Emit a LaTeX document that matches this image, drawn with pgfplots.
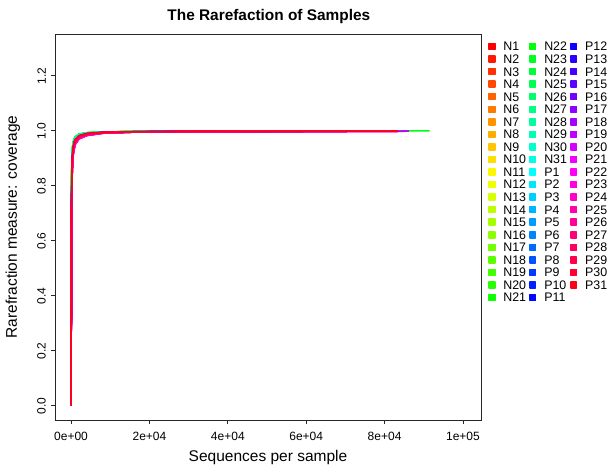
\documentclass[border=0pt]{standalone}
\usepackage{fontspec}
\setmainfont{Liberation Sans}
\usepackage{pgfplots}
\usepackage{pgfplotstable}
\pgfplotsset{compat=1.18}

% one row per sample: coverage at depth x (first row)
\pgfplotstableread{
name g1 g2 g3 g4 g5 g6 g7 g8 g9 g10 g11 g12 g13 g14
x 1 100 250 500 1000 2000 4000 8000 16000 32000 64000 83400 86200 91500
N1 0 0.73 0.888 0.941 0.968 0.982 0.9901 0.9944 0.9966 0.9978 0.9986 0.9988 nan nan
N2 0 0.69 0.872 0.933 0.964 0.979 0.9882 0.9936 0.9962 0.9975 0.9984 0.9986 nan nan
N3 0 0.71 0.882 0.939 0.967 0.981 0.9898 0.9942 0.9965 0.9978 0.9986 0.9988 nan nan
N4 0 0.75 0.898 0.947 0.972 0.985 0.9913 0.9950 0.9970 0.9980 0.9988 0.9990 nan nan
N5 0 0.72 0.886 0.940 0.968 0.982 0.9900 0.9943 0.9966 0.9978 0.9986 0.9988 nan nan
N6 0 0.67 0.868 0.931 0.962 0.978 0.9878 0.9934 0.9961 0.9975 0.9984 0.9986 nan nan
N7 0 0.73 0.887 0.941 0.969 0.982 0.9902 0.9944 0.9967 0.9979 0.9986 0.9988 nan nan
N8 0 0.77 0.902 0.949 0.973 0.985 0.9916 0.9951 0.9970 0.9981 0.9988 0.9990 nan nan
N9 0 0.72 0.884 0.939 0.967 0.981 0.9899 0.9942 0.9965 0.9978 0.9986 0.9988 nan nan
N10 0 0.68 0.871 0.932 0.963 0.979 0.9880 0.9935 0.9962 0.9975 0.9984 0.9986 nan nan
N11 0 0.76 0.899 0.948 0.972 0.985 0.9914 0.9950 0.9970 0.9980 0.9988 0.9990 nan nan
N12 0 0.73 0.886 0.941 0.968 0.982 0.9901 0.9943 0.9966 0.9978 0.9986 0.9988 nan nan
N13 0 0.77 0.901 0.949 0.973 0.986 0.9916 0.9951 0.9971 0.9981 0.9988 0.9990 nan nan
N14 0 0.79 0.913 0.954 0.975 0.987 0.9923 0.9954 0.9972 0.9983 0.9990 0.9992 nan nan
N15 0 0.76 0.900 0.948 0.972 0.985 0.9915 0.9950 0.9970 0.9980 0.9988 0.9990 nan nan
N16 0 0.80 0.915 0.955 0.976 0.987 0.9925 0.9955 0.9972 0.9983 0.9990 0.9992 nan nan
N17 0 0.77 0.903 0.949 0.973 0.985 0.9916 0.9951 0.9970 0.9981 0.9988 0.9990 nan nan
N18 0 0.81 0.917 0.956 0.977 0.988 0.9927 0.9956 0.9973 0.9984 0.9990 0.9992 nan nan
N19 0 0.80 0.914 0.955 0.976 0.987 0.9924 0.9955 0.9972 0.9983 0.9990 0.9992 nan nan
N20 0 0.78 0.905 0.950 0.974 0.986 0.9918 0.9952 0.9971 0.9981 0.9989 0.9991 nan nan
N21 0 0.81 0.918 0.957 0.977 0.988 0.9927 0.9956 0.9973 0.9984 0.9990 0.9992 nan nan
N22 0 0.82 0.920 0.958 0.978 0.988 0.9928 0.9957 0.9974 0.9984 0.9991 0.9993 0.9993 0.9994
N23 0 0.80 0.915 0.955 0.976 0.987 0.9925 0.9955 0.9972 0.9983 0.9990 0.9992 nan nan
N24 0 0.77 0.902 0.949 0.973 0.985 0.9916 0.9951 0.9970 0.9981 0.9988 0.9990 nan nan
N25 0 0.81 0.916 0.956 0.976 0.987 0.9926 0.9955 0.9973 0.9983 0.9990 0.9992 nan nan
N26 0 0.76 0.899 0.948 0.972 0.985 0.9914 0.9950 0.9970 0.9980 0.9988 0.9990 nan nan
N27 0 0.79 0.912 0.954 0.975 0.987 0.9923 0.9954 0.9972 0.9983 0.9990 0.9992 nan nan
N28 0 0.75 0.897 0.947 0.971 0.984 0.9912 0.9949 0.9969 0.9980 0.9988 0.9990 nan nan
N29 0 0.76 0.901 0.948 0.972 0.985 0.9915 0.9950 0.9970 0.9980 0.9988 0.9990 nan nan
N30 0 0.73 0.887 0.941 0.968 0.982 0.9901 0.9944 0.9966 0.9978 0.9986 0.9988 nan nan
N31 0 0.77 0.902 0.949 0.973 0.985 0.9916 0.9951 0.9970 0.9981 0.9988 0.9990 nan nan
P1 0 0.72 0.884 0.940 0.967 0.981 0.9899 0.9943 0.9965 0.9978 0.9986 0.9988 nan nan
P2 0 0.69 0.871 0.933 0.963 0.979 0.9881 0.9935 0.9962 0.9975 0.9984 0.9986 nan nan
P3 0 0.71 0.883 0.939 0.967 0.981 0.9898 0.9942 0.9965 0.9978 0.9986 0.9988 nan nan
P4 0 0.73 0.887 0.941 0.968 0.982 0.9902 0.9944 0.9966 0.9978 0.9986 0.9988 nan nan
P5 0 0.67 0.868 0.931 0.962 0.978 0.9878 0.9934 0.9961 0.9975 0.9984 0.9986 nan nan
P6 0 0.72 0.885 0.940 0.968 0.982 0.9900 0.9943 0.9966 0.9978 0.9986 0.9988 nan nan
P7 0 0.68 0.870 0.932 0.963 0.979 0.9880 0.9935 0.9962 0.9975 0.9984 0.9986 nan nan
P8 0 0.65 0.852 0.923 0.958 0.975 0.9862 0.9926 0.9957 0.9972 0.9982 0.9984 nan nan
P9 0 0.69 0.872 0.933 0.964 0.979 0.9882 0.9936 0.9962 0.9975 0.9984 0.9986 nan nan
P10 0 0.71 0.883 0.939 0.967 0.981 0.9899 0.9942 0.9965 0.9978 0.9986 0.9988 nan nan
P11 0 0.68 0.869 0.931 0.963 0.978 0.9879 0.9935 0.9961 0.9975 0.9984 0.9986 nan nan
P12 0 0.67 0.867 0.930 0.962 0.978 0.9877 0.9934 0.9961 0.9974 0.9984 0.9986 nan nan
P13 0 0.64 0.850 0.922 0.957 0.975 0.9860 0.9925 0.9957 0.9972 0.9982 0.9984 nan nan
P14 0 0.68 0.871 0.932 0.963 0.979 0.9880 0.9935 0.9962 0.9975 0.9984 0.9986 nan nan
P15 0 0.65 0.851 0.923 0.957 0.975 0.9861 0.9925 0.9957 0.9972 0.9982 0.9984 nan nan
P16 0 0.63 0.848 0.921 0.956 0.974 0.9858 0.9924 0.9956 0.9971 0.9982 0.9984 nan nan
P17 0 0.60 0.830 0.910 0.950 0.971 0.9830 0.9910 0.9950 0.9970 0.9980 0.9982 nan nan
P18 0 0.64 0.849 0.922 0.957 0.975 0.9860 0.9925 0.9957 0.9972 0.9982 0.9984 0.9985 nan
P19 0 0.61 0.833 0.911 0.951 0.971 0.9832 0.9911 0.9951 0.9970 0.9980 0.9982 0.9983 nan
P20 0 0.59 0.828 0.909 0.949 0.970 0.9828 0.9909 0.9950 0.9969 0.9980 0.9982 nan nan
P21 0 0.64 0.851 0.922 0.957 0.975 0.9860 0.9925 0.9957 0.9972 0.9982 0.9984 nan nan
P22 0 0.60 0.831 0.910 0.950 0.971 0.9831 0.9910 0.9950 0.9970 0.9980 0.9982 nan nan
P23 0 0.58 0.826 0.908 0.948 0.970 0.9826 0.9908 0.9949 0.9969 0.9979 0.9981 nan nan
P24 0 0.63 0.847 0.921 0.956 0.974 0.9858 0.9924 0.9956 0.9971 0.9982 0.9984 nan nan
P25 0 0.61 0.832 0.911 0.951 0.972 0.9833 0.9911 0.9951 0.9970 0.9980 0.9982 nan nan
P26 0 0.65 0.852 0.923 0.958 0.975 0.9862 0.9926 0.9957 0.9972 0.9982 0.9984 nan nan
P27 0 0.64 0.850 0.922 0.957 0.975 0.9860 0.9925 0.9957 0.9972 0.9982 0.9984 nan nan
P28 0 0.67 0.868 0.931 0.962 0.978 0.9878 0.9934 0.9961 0.9975 0.9984 0.9986 nan nan
P29 0 0.69 0.872 0.933 0.964 0.979 0.9882 0.9936 0.9962 0.9975 0.9984 0.9986 nan nan
P30 0 0.71 0.884 0.939 0.967 0.981 0.9899 0.9942 0.9965 0.9978 0.9986 0.9988 nan nan
P31 0 0.72 0.886 0.940 0.968 0.982 0.9900 0.9943 0.9966 0.9978 0.9986 0.9988 nan nan
}\rawtab
\pgfplotstabletranspose[colnames from=name]\curves\rawtab

% rainbow(62) palette, as R gives it
\newcount\ci
\ci=0
\pgfplotsforeachungrouped \n in {N1,N2,N3,N4,N5,N6,N7,N8,N9,N10,N11,N12,N13,N14,N15,N16,N17,N18,N19,N20,N21,N22,N23,N24,N25,N26,N27,N28,N29,N30,N31,P1,P2,P3,P4,P5,P6,P7,P8,P9,P10,P11,P12,P13,P14,P15,P16,P17,P18,P19,P20,P21,P22,P23,P24,P25,P26,P27,P28,P29,P30,P31}{%
  \pgfmathsetmacro\h{\the\ci/62}%
  \definecolor{tmphsb}{hsb}{\h,1,1}%
  \colorlet{c\n}[rgb]{tmphsb}%
  \advance\ci by 1
}

\begin{document}
\begin{tikzpicture}
\begin{axis}[
    name=ax,
    scale only axis,
    width=426pt, height=386pt,
    xmin=-4100, xmax=104600,
    ymin=-0.052, ymax=1.352,
    axis line style={line width=0.8pt, black!85},
    tick style={line width=0.8pt, black!85},
    tick align=outside,
    tick pos=left,
    major tick length=4pt,
    xtick={0,20000,40000,60000,80000,100000},
    xticklabels={0e+00,2e+04,4e+04,6e+04,8e+04,1e+05},
    scaled x ticks=false,
    ytick={0,0.2,0.4,0.6,0.8,1.0,1.2},
    yticklabels={0.0,0.2,0.4,0.6,0.8,1.0,1.2},
    tick label style={font=\fontsize{12}{14}\selectfont},
    xticklabel style={anchor=north, inner sep=0pt, yshift=-8pt},
    yticklabel style={xshift=-5pt, rotate=90, anchor=south, inner sep=0pt},
    title={The Rarefaction of Samples},
    every axis title shift=0pt,
    title style={at={(axis description cs:0.502,1.044)}, anchor=center,
                 font=\fontsize{15.4}{18}\selectfont\bfseries},
    xlabel={Sequences per sample},
    ylabel={Rarefraction measure: coverage},
    label style={font=\fontsize{15.5}{18}\selectfont},
    xlabel style={at={(axis description cs:0.5,-0.096)}, anchor=center},
    ylabel style={at={(axis description cs:-0.099,0.5)}, anchor=center},
    no markers,
    every axis plot/.append style={line width=1.5pt, line join=round},
    % square key, then the gap up to the text
    legend image code/.code={\fill[#1] (0pt,-3pt) rectangle (5.8pt,3pt);
                             \path (13.6pt,0pt);},
    legend cell align=left,
    transpose legend,
    legend columns=21,
    legend style={at={(axis description cs:1.0171,0.979)}, anchor=north west,
                  draw=none, fill=none, inner sep=0pt, outer sep=0pt,
                  font=\fontsize{12.4}{14}\selectfont,
                  row sep=3.75pt, column sep=0pt,
                  nodes={inner sep=0pt, text height=8.8pt, text depth=0pt,
                         text width=25.8pt}},
]
\pgfplotsinvokeforeach{N1,N2,N3,N4,N5,N6,N7,N8,N9,N10,N11,N12,N13,N14,N15,N16,N17,N18,N19,N20,N21,N22,N23,N24,N25,N26,N27,N28,N29,N30,N31,P1,P2,P3,P4,P5,P6,P7,P8,P9,P10,P11,P12,P13,P14,P15,P16,P17,P18,P19,P20,P21,P22,P23,P24,P25,P26,P27,P28,P29,P30,P31}{
  \addplot[color=c#1] table[x=x, y=#1] {\curves};
  \addlegendentry{#1}
}
\end{axis}
\pgfresetboundingbox
\path ([xshift=-55pt,yshift=-46pt]ax.south west) rectangle ([xshift=130pt,yshift=34pt]ax.north east);
\end{tikzpicture}
\end{document}
